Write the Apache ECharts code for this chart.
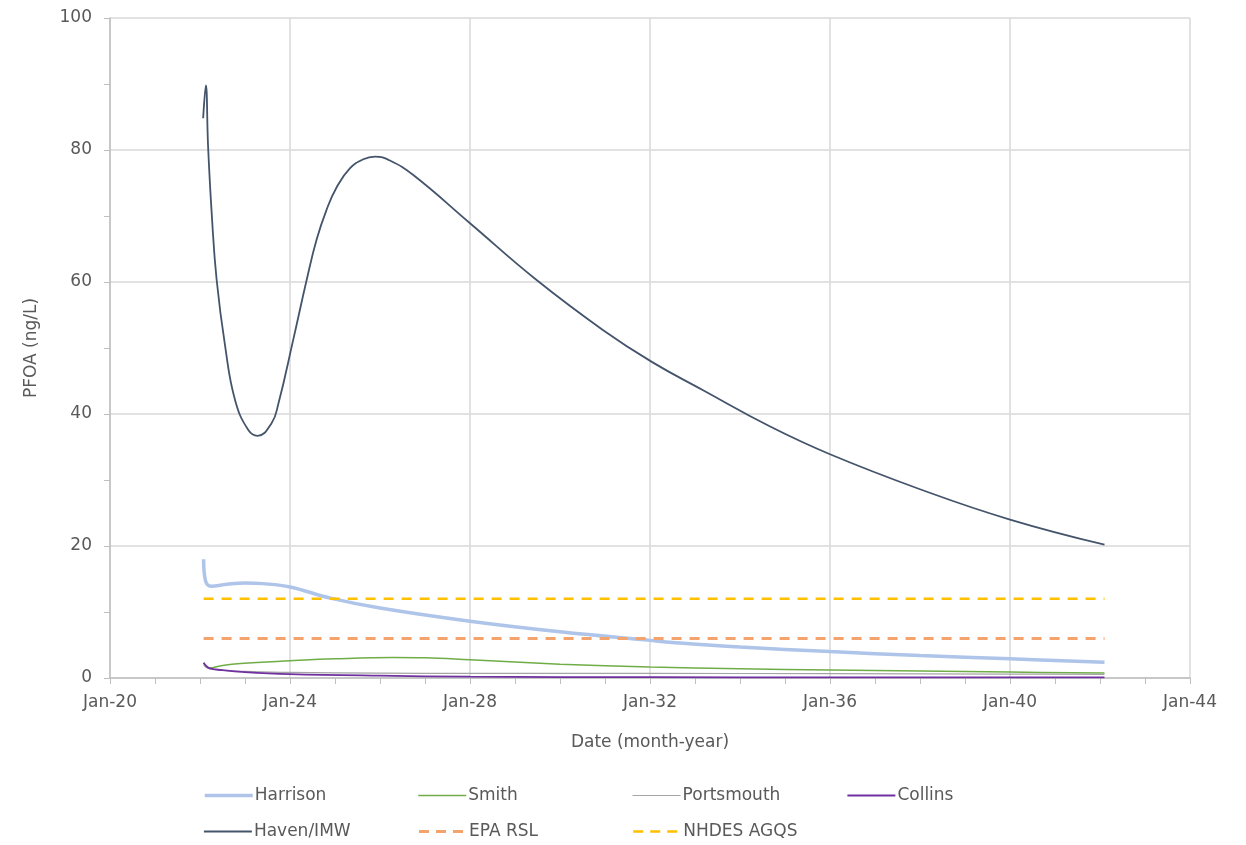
<!DOCTYPE html>
<html>
<head>
<meta charset="utf-8">
<script src="https://cdn.jsdelivr.net/npm/echarts@6/dist/echarts.min.js"></script>
<style>
html,body{margin:0;padding:0;background:#fff;}
#chart{width:1246px;height:845px;}
</style>
</head>
<body>
<div id="chart"></div>
<script>
// x values are decimal years; y values are PFOA (ng/L)
const xTicks = [2020, 2024, 2028, 2032, 2036, 2040, 2044];
const harrison = [[2022.08,18.0],[2022.12,14.8],[2022.25,13.9],[2022.6,14.2],[2023.0,14.4],[2023.4,14.3],[2024.0,13.8],[2024.9,12.1],[2026.0,10.6],[2028.0,8.6],[2030.0,7.0],[2032.0,5.7],[2032.67,5.3],[2034.0,4.7],[2036.0,4.0],[2038.0,3.4],[2040.0,2.9],[2042.1,2.4]];
const smith = [[2022.08,2.3],[2022.2,1.5],[2022.5,1.9],[2022.9,2.2],[2024.0,2.6],[2025.0,2.9],[2026.3,3.1],[2027.0,3.05],[2028.0,2.75],[2030.0,2.1],[2032.0,1.65],[2034.0,1.4],[2036.0,1.2],[2038.0,1.05],[2040.0,0.9],[2042.1,0.75]];
const portsmouth = [[2022.08,2.0],[2022.2,1.4],[2023.0,1.0],[2024.0,0.85],[2026.0,0.75],[2028.0,0.7],[2032.0,0.7],[2036.0,0.65],[2040.0,0.6],[2042.1,0.55]];
const collins = [[2022.08,2.3],[2022.2,1.5],[2022.5,1.2],[2023.0,0.9],[2024.0,0.6],[2026.0,0.35],[2028.0,0.2],[2032.0,0.12],[2036.0,0.1],[2042.1,0.08]];
const haven = [[2022.07,84.8],[2022.13,89.8],[2022.18,80.5],[2022.26,70.4],[2022.37,60.3],[2022.56,50.2],[2022.78,42.1],[2023.07,37.6],[2023.28,36.7],[2023.59,38.6],[2023.74,41.5],[2024.07,51.2],[2024.37,60.3],[2024.59,66.4],[2024.81,70.9],[2025.04,74.4],[2025.33,77.2],[2025.63,78.6],[2025.89,79.0],[2026.22,78.4],[2026.74,76.2],[2028.0,68.9],[2029.48,60.3],[2030.96,52.7],[2032.04,47.9],[2033.18,43.6],[2034.67,38.1],[2036.0,33.9],[2038.0,28.6],[2040.0,24.0],[2042.1,20.2]];
const epaRsl = [[2022.08,6],[2042.1,6]];
const nhdesAgqs = [[2022.08,12],[2042.1,12]];
const legendRow1 = ['Harrison','Smith','Portsmouth','Collins'];
const legendRow2 = ['Haven/IMW','EPA RSL','NHDES AGQS'];

const txt = '#595959';
const font = 'DejaVu Sans';
const chart = echarts.init(document.getElementById('chart'));
const styles = {
  'Harrison':   {color:'#aec4e9', width:3.5, type:'solid'},
  'Smith':      {color:'#70ad47', width:1.5, type:'solid'},
  'Portsmouth': {color:'#a5a5a5', width:1.2, type:'solid'},
  'Collins':    {color:'#7030a0', width:1.8, type:'solid'},
  'Haven/IMW':  {color:'#44546a', width:1.8, type:'solid'},
  'EPA RSL':    {color:'#f4a36d', width:3,   type:[10,8]},
  'NHDES AGQS': {color:'#ffc000', width:2.5, type:[10,8]}
};
function line(name, data, smooth){
  const s = styles[name];
  return {name, type:'line', data, symbol:'none', showSymbol:false,
    smooth: smooth,
    lineStyle:{color:s.color, width:s.width, type:s.type}, itemStyle:{color:s.color}};
}
const legends = [];
[legendRow1, legendRow2].forEach((row, r) => {
  row.forEach((name, i) => {
    const s = styles[name];
    legends.push({data:[name], left:203 + i*214.5, top: r === 0 ? 787 : 823, padding:0,
      itemWidth:48, itemHeight:14, itemGap:0,
      itemStyle:{opacity:0},
      lineStyle:{color:s.color, width:s.width, type: Array.isArray(s.type) ? [10,7] : 'solid'},
      textStyle:{color:txt, fontSize:17, fontFamily:font, padding:[0,0,0,-3]}});
  });
});
chart.setOption({
  backgroundColor:'#fff',
  animation:false,
  textStyle:{fontFamily:font},
  grid:{left:110, right:56, top:18, bottom:167},
  xAxis:{type:'value', min:xTicks[0], max:xTicks[xTicks.length-1], interval:4,
    name:'Date (month-year)', nameLocation:'middle', nameGap:56,
    nameTextStyle:{color:txt, fontSize:17, fontFamily:font},
    axisLine:{show:true, lineStyle:{color:'#bfbfbf', width:1.5}},
    axisTick:{show:true, length:6, lineStyle:{color:'#bfbfbf'}},
    minorTick:{show:true, splitNumber:4, length:6, lineStyle:{color:'#bfbfbf'}},
    splitLine:{show:true, lineStyle:{color:'#d9d9d9', width:1.5}},
    axisLabel:{color:txt, fontSize:17, margin:16, fontFamily:font,
      formatter: v => 'Jan-' + String(v).slice(2)}},
  yAxis:{type:'value', min:0, max:100, interval:20,
    name:'PFOA (ng/L)', nameLocation:'middle', nameGap:70, nameRotate:90,
    nameTextStyle:{color:txt, fontSize:17, fontFamily:font},
    axisLine:{show:true, lineStyle:{color:'#bfbfbf', width:1.5}},
    axisTick:{show:true, length:6, lineStyle:{color:'#bfbfbf'}},
    minorTick:{show:true, splitNumber:2, length:6, lineStyle:{color:'#bfbfbf'}},
    splitLine:{show:true, lineStyle:{color:'#d9d9d9', width:1.5}},
    axisLabel:{color:txt, fontSize:17, margin:18, fontFamily:font}},
  legend: legends,
  series:[
    line('Harrison', harrison, 0.4),
    line('Smith', smith, 0.4),
    line('Portsmouth', portsmouth, 0.4),
    line('Collins', collins, 0.4),
    line('Haven/IMW', haven, 0.45),
    line('EPA RSL', epaRsl, false),
    line('NHDES AGQS', nhdesAgqs, false)
  ]
});
</script>
</body>
</html>
